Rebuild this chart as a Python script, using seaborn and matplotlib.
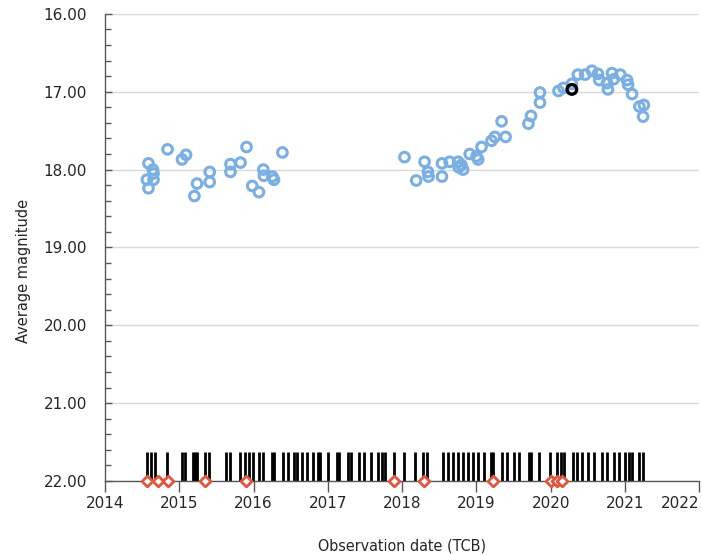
import matplotlib
matplotlib.use("Agg")
import matplotlib.pyplot as plt
import seaborn as sns
import pandas as pd
from matplotlib.ticker import MultipleLocator, FormatStrFormatter

# Light-curve points: observation date (decimal year, TCB) and average magnitude
obs_date = [2014.585, 2014.645, 2014.653, 2014.564, 2014.653, 2014.585,
            2014.842, 2015.036, 2015.091, 2015.203, 2015.239, 2015.409,
            2015.409, 2015.689, 2015.689, 2015.824, 2015.905, 2015.982,
            2016.072, 2016.131, 2016.139, 2016.253, 2016.274, 2016.388,
            2018.031, 2018.189, 2018.301, 2018.347, 2018.355, 2018.536,
            2018.536, 2018.639, 2018.753, 2018.761, 2018.797, 2018.820,
            2018.909, 2019.000, 2019.023, 2019.068, 2019.203, 2019.247,
            2019.338, 2019.392, 2019.699, 2019.734, 2019.855, 2019.855,
            2020.104, 2020.172, 2020.284, 2020.365, 2020.464, 2020.554,
            2020.635, 2020.653, 2020.757, 2020.770, 2020.824, 2020.847,
            2020.936, 2021.027, 2021.041, 2021.095, 2021.193, 2021.253,
            2021.243]
avg_mag = [17.92, 18.00, 18.05, 18.13, 18.13, 18.24,
           17.74, 17.87, 17.81, 18.34, 18.18, 18.03,
           18.16, 17.93, 18.03, 17.91, 17.71, 18.21,
           18.29, 18.00, 18.08, 18.09, 18.13, 17.78,
           17.84, 18.14, 17.90, 18.03, 18.09, 17.92,
           18.09, 17.90, 17.90, 17.97, 17.94, 18.00,
           17.80, 17.83, 17.87, 17.71, 17.63, 17.58,
           17.38, 17.58, 17.41, 17.31, 17.01, 17.14,
           16.99, 16.95, 16.90, 16.78, 16.78, 16.73,
           16.77, 16.85, 16.89, 16.97, 16.76, 16.84,
           16.78, 16.85, 16.91, 17.03, 17.19, 17.17,
           17.32]

# Highlighted point
highlight_date = [2020.284]
highlight_mag = [16.97]

# Individual observation epochs (bar code along the bottom)
epoch_dates = [2014.568, 2014.622, 2014.676, 2014.838, 2015.041, 2015.081,
               2015.189, 2015.216, 2015.243, 2015.351, 2015.405, 2015.622,
               2015.689, 2015.811, 2015.878, 2015.932, 2015.986, 2016.068,
               2016.122, 2016.243, 2016.270, 2016.392, 2016.459, 2016.541,
               2016.581, 2016.649, 2016.716, 2016.797, 2016.865, 2016.892,
               2017.000, 2017.122, 2017.149, 2017.270, 2017.311, 2017.419,
               2017.486, 2017.581, 2017.676, 2017.730, 2017.770, 2017.892,
               2018.027, 2018.176, 2018.284, 2018.338, 2018.554, 2018.622,
               2018.689, 2018.757, 2018.824, 2018.892, 2018.959, 2019.027,
               2019.095, 2019.189, 2019.216, 2019.338, 2019.405, 2019.500,
               2019.568, 2019.703, 2019.730, 2019.838, 2019.986, 2020.081,
               2020.135, 2020.176, 2020.297, 2020.351, 2020.419, 2020.500,
               2020.581, 2020.689, 2020.757, 2020.851, 2020.919, 2021.000,
               2021.054, 2021.095, 2021.189, 2021.243]
epoch_top = 21.63

# Flagged epochs (red diamonds on the axis)
flag_dates = [2014.564, 2014.709, 2014.842, 2015.345, 2015.899, 2017.896,
              2018.293, 2019.226, 2020.009, 2020.081, 2020.155]
flag_mag = [22.0] * len(flag_dates)

x_ticks = [2014, 2015, 2016, 2017, 2018, 2019, 2020, 2021, 2022]
y_ticks = [16, 17, 18, 19, 20, 21, 22]

sns.set_theme(style="white")
plt.rcParams['font.family'] = ['DejaVu Sans']

fig = plt.figure(figsize=(7.02, 5.56), dpi=100)
ax = fig.add_axes([0.1496, 0.135, 0.8466, 0.840])

# grid lines
for yv in y_ticks:
    ax.axhline(yv, color='#d9d9d9', lw=1.0, zorder=0)

df = pd.DataFrame({'date': obs_date, 'mag': avg_mag})
sns.scatterplot(data=df, x='date', y='mag', ax=ax, marker='o', s=48,
                facecolor='none', edgecolor='#7aafe3', linewidth=2.2, zorder=3)

dh = pd.DataFrame({'date': highlight_date, 'mag': highlight_mag})
sns.scatterplot(data=dh, x='date', y='mag', ax=ax, marker='o', s=48,
                facecolor='none', edgecolor='black', linewidth=2.4, zorder=4)

ax.vlines(epoch_dates, epoch_top, 22.0, colors='black', lw=2.0, zorder=2)

dfl = pd.DataFrame({'date': flag_dates, 'mag': flag_mag})
sns.scatterplot(data=dfl, x='date', y='mag', ax=ax, marker='D', s=30,
                facecolor='white', edgecolor='#e5533d', linewidth=2.0,
                zorder=6, clip_on=False)

ax.set_xlim(2014, 2022)
ax.set_ylim(22, 16)
ax.set_xticks(x_ticks)
ax.set_xticklabels([str(t) for t in x_ticks])
ax.set_yticks(y_ticks)
ax.yaxis.set_major_formatter(FormatStrFormatter('%.2f'))
ax.yaxis.set_minor_locator(MultipleLocator(0.2))

ax.tick_params(axis='x', which='major', direction='out', length=8, width=1,
               color='#595959', labelsize=11, pad=3, bottom=True)
ax.tick_params(axis='y', which='major', direction='in', length=5, width=1,
               color='#595959', labelsize=11, pad=13, left=True)
ax.tick_params(axis='y', which='minor', direction='in', length=4, width=1,
               color='#595959', left=True)

# keep last x tick label inside the figure
xlabels = ax.get_xticklabels()
xlabels[-1].set_horizontalalignment('right')

for s in ['top', 'right']:
    ax.spines[s].set_visible(False)
for s in ['left', 'bottom']:
    ax.spines[s].set_color('#595959')
    ax.spines[s].set_linewidth(1.0)

ax.set_xlabel('Observation date (TCB)', fontsize=11.5, labelpad=20,
              fontstretch='condensed')
ax.set_ylabel('Average magnitude', fontsize=10.5)
ax.yaxis.set_label_coords(-0.125, 0.45)

fig.savefig('out.png', dpi=100)
